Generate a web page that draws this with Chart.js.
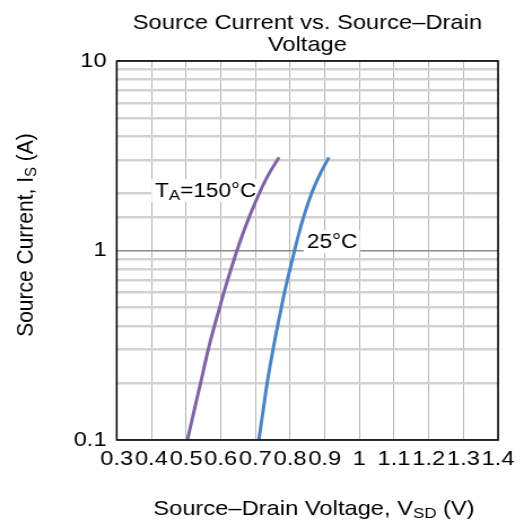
<!DOCTYPE html>
<html><head><meta charset="utf-8">
<script src="https://cdn.jsdelivr.net/npm/chart.js@4/dist/chart.umd.min.js"></script>
<style>html,body{margin:0;padding:0;background:#fff;overflow:hidden}</style></head>
<body><canvas id="c" width="464" height="525" style="display:block;width:524px;height:525px"></canvas>
<script>
// ---- data ----
const titleLines = ['Source Current vs. Source\u2013Drain', 'Voltage'];
const isLevels = [0.1, 0.15, 0.2, 0.3, 0.4, 0.5, 0.6, 0.8, 1.0, 1.2, 1.5, 2.0, 2.5, 3.1];
const vsd150   = [0.504, 0.526, 0.542, 0.564, 0.582, 0.597, 0.609, 0.630, 0.647, 0.662, 0.682, 0.711, 0.737, 0.768];
const vsd25    = [0.710, 0.724, 0.734, 0.751, 0.764, 0.775, 0.784, 0.800, 0.813, 0.824, 0.839, 0.862, 0.885, 0.912];
const xTickLabels = ['0.3','0.4','0.5','0.6','0.7','0.8','0.9','1','1.1','1.2','1.3','1.4'];
const yTickLabels = ['0.1','1','10'];

const FONT = '"Liberation Sans", Arial, sans-serif';
const SX = 524 / 464; // horizontal stretch of the reference picture

function pts(xs, ys){ return xs.map((x,i)=>({x:x, y:ys[i]})); }

function drawRich(ctx, parts, x, y, size, subSize, align){
  let w = 0;
  const widths = parts.map(p=>{ ctx.font = (p[1]?subSize:size)+'px '+FONT; const m = ctx.measureText(p[0]).width; w += m; return m; });
  let cx = align==='center' ? x - w/2 : x;
  const x0 = cx;
  parts.forEach((p,i)=>{
    ctx.font = (p[1]?subSize:size)+'px '+FONT;
    ctx.fillText(p[0], cx, y + (p[1] ? 3 : 0));
    cx += widths[i];
  });
  return {left:x0, width:w};
}

const decor = {
  id:'decor',
  beforeDatasetsDraw(chart){
    const ctx = chart.ctx;
    ctx.save();
    ctx.textBaseline = 'alphabetic';
    ctx.textAlign = 'left';
    const a1 = [['T',false],['A',true],['=150\u00b0C',false]];
    const a2 = [['25\u00b0C',false]];
    const labs = [[a1, 155/SX, 197],[a2, 307/SX, 248]];
    labs.forEach(([parts,x,y])=>{
      let w = 0;
      parts.forEach(p=>{ ctx.font=(p[1]?15:20)+'px '+FONT; w+=ctx.measureText(p[0]).width; });
      ctx.fillStyle = '#fff';
      ctx.fillRect(x-3, y-18, w+5, 23);
      ctx.fillStyle = '#000';
      drawRich(ctx, parts, x, y, 20, 15, 'left');
    });
    ctx.restore();
  },
  afterDraw(chart){
    const ctx = chart.ctx, ca = chart.chartArea;
    ctx.save();
    ctx.strokeStyle = '#000';
    ctx.lineWidth = 1.5;
    ctx.strokeRect(ca.left, ca.top, ca.right-ca.left, ca.bottom-ca.top);
    ctx.fillStyle = '#000';
    ctx.textBaseline = 'alphabetic';
    ctx.textAlign = 'center';
    ctx.font = '21px '+FONT;
    const cx = (ca.left+ca.right)/2;
    ctx.fillText(titleLines[0], cx, 28.5);
    ctx.fillText(titleLines[1], cx, 50.5);
    ctx.textAlign = 'left';
    drawRich(ctx, [['Source\u2013Drain Voltage, V',false],['SD',true],[' (V)',false]], 314/SX, 515, 21, 15, 'center');
    ctx.translate(29, 235);
    ctx.rotate(-Math.PI/2);
    drawRich(ctx, [['Source Current, I',false],['S',true],[' (A)',false]], 0, 0, 21, 15, 'center');
    ctx.restore();
  }
};

function isDecade(v){ const l = Math.log10(v); return Math.abs(l-Math.round(l))<1e-9; }

new Chart(document.getElementById('c'), {
  type:'scatter',
  data:{ datasets:[
    {label:'TA=150°C', data:pts(vsd150,isLevels), showLine:true, borderColor:'#8063a6', borderWidth:3, pointRadius:0, tension:0.4, fill:false},
    {label:'25°C', data:pts(vsd25,isLevels), showLine:true, borderColor:'#4a84c4', borderWidth:3, pointRadius:0, tension:0.4, fill:false}
  ]},
  options:{
    responsive:false, animation:false, devicePixelRatio:1,
    layout:{padding:{top:61, right:23, left:0, bottom:0}},
    plugins:{legend:{display:false}, title:{display:false}, tooltip:{enabled:false}},
    scales:{
      x:{type:'linear', min:0.3, max:1.4,
        afterFit:s=>{ s.height = 85; },
        ticks:{stepSize:0.1, autoSkip:false, maxRotation:0, minRotation:0, padding:7, color:'#000',
          font:{family:FONT, size:21},
          callback:(v)=>{ const f = xTickLabels.find(l=>Math.abs(parseFloat(l)-v)<1e-6); return f===undefined?'':f; }},
        grid:{color:'#b4b4b4', lineWidth:1, drawTicks:false},
        border:{display:false}},
      y:{type:'logarithmic', min:0.1, max:10,
        afterFit:s=>{ s.width = 116.7/SX; },
        ticks:{autoSkip:false, padding:9, color:'#000', font:{family:FONT, size:21},
          callback:(v)=>{ const f = yTickLabels.find(l=>Math.abs(parseFloat(l)-v)<1e-9); return f===undefined?'':f; }},
        grid:{color:c=> (c.tick && isDecade(c.tick.value)) ? '#8a8a8a' : '#d2d2d2',
              lineWidth:c=> (c.tick && isDecade(c.tick.value)) ? 1.5 : 2.5, drawTicks:false},
        border:{display:false}}
    }
  },
  plugins:[decor]
});
</script></body></html>
